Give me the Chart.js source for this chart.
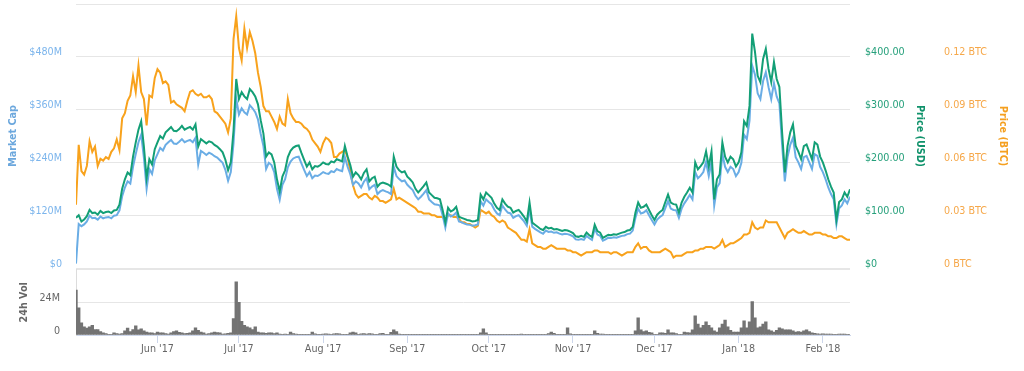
<!DOCTYPE html>
<html>
<head>
<meta charset="utf-8">
<script src="https://cdn.jsdelivr.net/npm/chart.js@4.4.1/dist/chart.umd.min.js"></script>
<style>
  html, body { margin: 0; padding: 0; background: #fff; }
  #wrap { position: relative; width: 1024px; height: 371px; overflow: hidden; }
  #mainChart { position: absolute; left: 0; top: 0; }
  #volChart { position: absolute; left: 0; top: 262px; }
</style>
</head>
<body>
<div id="wrap">
  <canvas id="mainChart" width="1024" height="272"></canvas>
  <canvas id="volChart" width="1024" height="109"></canvas>
</div>
<script>
// ── data: one value per day, day 0 = 2 May 2017, last = 11 Feb 2018 ──

// price in USD
const priceUsd = [
  95, 100, 88, 92, 98, 110, 104, 105, 101, 108,
  104, 106, 107, 104, 109, 110, 120, 150, 168, 181,
  176, 211, 238, 262, 278, 230, 170, 206, 196, 225,
  238, 250, 245, 257, 262, 267, 260, 259, 263, 269,
  262, 265, 267, 262, 272, 230, 244, 240, 236, 240,
  238, 233, 230, 225, 219, 205, 185, 200, 260, 358,
  320, 333, 325, 320, 339, 333, 325, 310, 280, 255,
  211, 219, 215, 200, 168, 145, 173, 185, 210, 222,
  228, 231, 232, 218, 205, 192, 200, 187, 193, 192,
  195, 200, 197, 196, 202, 200, 206, 204, 202, 231,
  211, 195, 173, 181, 176, 168, 180, 187, 164, 170,
  173, 154, 160, 162, 160, 158, 154, 211, 192, 185,
  181, 183, 173, 168, 162, 150, 143, 149, 155, 162,
  143, 138, 133, 132, 130, 110, 86, 114, 107, 110,
  116, 97, 95, 93, 91, 90, 88, 89, 91, 139,
  130, 143, 138, 133, 122, 114, 110, 130, 122, 116,
  114, 105, 108, 110, 104, 97, 88, 124, 86, 82,
  78, 74, 72, 78, 75, 76, 73, 74, 72, 70,
  72, 71, 69, 66, 60, 59, 61, 59, 67, 62,
  59, 82, 70, 67, 57, 60, 63, 62, 64, 63,
  65, 67, 68, 71, 72, 78, 105, 124, 114, 116,
  120, 110, 100, 91, 101, 106, 110, 125, 139, 124,
  121, 120, 105, 124, 135, 143, 152, 143, 200, 187,
  193, 200, 221, 192, 221, 130, 168, 177, 238, 211,
  200, 211, 206, 192, 200, 219, 278, 269, 307, 444,
  410, 364, 352, 396, 415, 377, 352, 390, 358, 343,
  257, 181, 231, 257, 272, 231, 220, 206, 231, 234,
  220, 206, 238, 234, 211, 200, 185, 168, 154, 143,
  91, 125, 130, 143, 135, 149
];

// market cap in $M
const marketCap = [
  10, 100, 95, 99, 106, 119, 113, 114, 110, 117,
  113, 115, 116, 113, 119, 120, 131, 163, 183, 197,
  192, 230, 259, 286, 303, 251, 180, 225, 214, 245,
  259, 273, 267, 280, 286, 291, 283, 282, 287, 293,
  286, 289, 291, 286, 296, 235, 266, 262, 257, 262,
  259, 254, 251, 245, 239, 223, 198, 218, 283, 385,
  349, 363, 354, 349, 370, 363, 354, 338, 305, 278,
  225, 239, 234, 218, 180, 155, 189, 202, 229, 242,
  249, 252, 253, 238, 223, 209, 218, 204, 210, 209,
  213, 218, 215, 214, 220, 218, 225, 222, 220, 252,
  230, 213, 189, 197, 192, 183, 196, 204, 179, 185,
  189, 168, 174, 177, 174, 172, 168, 230, 209, 202,
  197, 199, 189, 183, 177, 164, 156, 162, 169, 177,
  156, 150, 145, 144, 142, 120, 92, 124, 117, 120,
  126, 106, 104, 101, 99, 98, 96, 97, 99, 152,
  142, 156, 150, 145, 133, 124, 120, 142, 133, 126,
  124, 114, 118, 120, 113, 106, 96, 135, 94, 89,
  85, 81, 78, 85, 82, 83, 80, 81, 78, 76,
  78, 77, 75, 72, 65, 64, 66, 64, 73, 68,
  64, 89, 76, 73, 62, 65, 69, 68, 70, 69,
  71, 73, 74, 77, 78, 85, 114, 135, 124, 126,
  131, 120, 109, 99, 110, 116, 120, 136, 152, 135,
  132, 131, 114, 135, 147, 156, 166, 156, 218, 204,
  210, 218, 241, 209, 241, 142, 183, 193, 259, 230,
  218, 230, 225, 209, 218, 239, 303, 293, 335, 460,
  440, 397, 384, 425, 445, 411, 384, 420, 390, 374,
  280, 197, 252, 280, 296, 252, 240, 225, 252, 255,
  240, 225, 259, 255, 230, 218, 202, 183, 168, 156,
  99, 136, 142, 156, 147, 162
];

// price in BTC
const priceBtc = [
  0.036, 0.070, 0.055, 0.053, 0.058, 0.072, 0.066, 0.069, 0.058, 0.062,
  0.061, 0.063, 0.062, 0.066, 0.068, 0.073, 0.067, 0.085, 0.088, 0.095,
  0.098, 0.109, 0.100, 0.115, 0.100, 0.096, 0.081, 0.098, 0.097, 0.108,
  0.113, 0.111, 0.105, 0.106, 0.104, 0.094, 0.095, 0.093, 0.092, 0.091,
  0.089, 0.095, 0.100, 0.101, 0.099, 0.098, 0.099, 0.097, 0.097, 0.098,
  0.096, 0.089, 0.088, 0.086, 0.084, 0.082, 0.077, 0.085, 0.130, 0.143,
  0.125, 0.118, 0.136, 0.125, 0.134, 0.129, 0.122, 0.111, 0.103, 0.092,
  0.089, 0.089, 0.086, 0.083, 0.079, 0.086, 0.082, 0.081, 0.096, 0.088,
  0.085, 0.083, 0.083, 0.082, 0.080, 0.079, 0.077, 0.073, 0.071, 0.069,
  0.066, 0.071, 0.074, 0.073, 0.071, 0.063, 0.063, 0.065, 0.066, 0.067,
  0.063, 0.055, 0.047, 0.042, 0.040, 0.041, 0.042, 0.042, 0.040, 0.039,
  0.041, 0.040, 0.038, 0.038, 0.037, 0.038, 0.039, 0.045, 0.039, 0.040,
  0.039, 0.038, 0.037, 0.036, 0.035, 0.034, 0.032, 0.032, 0.031, 0.031,
  0.031, 0.030, 0.030, 0.029, 0.029, 0.029, 0.027, 0.030, 0.030, 0.029,
  0.029, 0.028, 0.026, 0.026, 0.025, 0.025, 0.024, 0.023, 0.024, 0.033,
  0.032, 0.031, 0.032, 0.030, 0.029, 0.027, 0.026, 0.027, 0.026, 0.023,
  0.022, 0.021, 0.020, 0.018, 0.016, 0.016, 0.015, 0.022, 0.014, 0.013,
  0.012, 0.012, 0.011, 0.011, 0.012, 0.013, 0.012, 0.011, 0.011, 0.011,
  0.011, 0.010, 0.010, 0.009, 0.009, 0.008, 0.007, 0.008, 0.009, 0.009,
  0.009, 0.010, 0.010, 0.009, 0.009, 0.009, 0.009, 0.008, 0.009, 0.009,
  0.008, 0.007, 0.008, 0.009, 0.009, 0.009, 0.012, 0.014, 0.011, 0.012,
  0.012, 0.010, 0.009, 0.009, 0.009, 0.009, 0.010, 0.011, 0.010, 0.009,
  0.006, 0.007, 0.007, 0.007, 0.008, 0.009, 0.009, 0.009, 0.010, 0.010,
  0.011, 0.011, 0.012, 0.012, 0.012, 0.011, 0.012, 0.013, 0.016, 0.012,
  0.013, 0.014, 0.014, 0.015, 0.016, 0.017, 0.019, 0.019, 0.020, 0.026,
  0.023, 0.022, 0.023, 0.023, 0.027, 0.026, 0.026, 0.026, 0.026, 0.023,
  0.020, 0.017, 0.020, 0.021, 0.022, 0.021, 0.020, 0.020, 0.021, 0.020,
  0.019, 0.019, 0.020, 0.020, 0.020, 0.019, 0.019, 0.018, 0.018, 0.017,
  0.017, 0.018, 0.018, 0.017, 0.016, 0.016
];

// 24h volume in $M
const volume = [
  33, 20, 9, 6, 5, 6, 7, 4, 4, 2.5,
  1.5, 1, 0.5, 0.4, 1.5, 1, 0.7, 1, 3, 5,
  2.5, 4, 6.7, 3.7, 4.5, 3, 2.2, 1.5, 1.5, 1,
  2.2, 1.5, 1.5, 1, 0.7, 1.5, 2.5, 3, 2, 1.5,
  1, 1.2, 1.5, 3, 5.2, 3.5, 2.2, 1.5, 0.7, 1,
  1.5, 2.2, 1.8, 1.5, 0.7, 0.8, 1.2, 1.5, 12, 39,
  24, 10, 7, 6, 5.2, 4, 6, 2.2, 1.5, 1.5,
  1.2, 1.5, 1.5, 1, 1.5, 0.7, 0.5, 0.7, 0.5, 2.2,
  1, 0.7, 0.2, 0.3, 0.2, 0.3, 0.2, 2.2, 0.8, 0.3,
  0.2, 0.7, 0.8, 0.7, 0.2, 0.8, 1, 0.8, 0.2, 0.3,
  0.4, 1.5, 2.2, 1.5, 0.3, 0.8, 1, 0.6, 1, 0.8,
  0.3, 0.3, 1, 1.2, 0.4, 0.3, 2, 3.7, 2.5, 0.6,
  0.5, 0.5, 0.5, 0.4, 0.1, 0.1, 0.1, 0.1, 0.1, 0.1,
  0.1, 0.1, 0.1, 0.1, 0.1, 0.1, 0.1, 0.1, 0.1, 0.1,
  0.1, 0.1, 0.1, 0.1, 0.1, 0.1, 0.1, 0.1, 0.2, 1.5,
  4.5, 1.5, 0.3, 0.1, 0.1, 0.1, 0.1, 0.1, 0.1, 0.1,
  0.1, 0.1, 0.1, 0.1, 0.7, 0.3, 0.1, 0.1, 0.1, 0.1,
  0.1, 0.1, 0.1, 0.1, 1, 2.2, 1.2, 0.2, 0.1, 0.1,
  0.5, 5.2, 0.8, 0.1, 0.1, 0.1, 0.1, 0.1, 0.1, 0.1,
  0.3, 3, 1.2, 0.7, 0.7, 0.5, 0.1, 0.1, 0.1, 0.1,
  0.1, 0.1, 0.1, 0.1, 0.1, 0.1, 3, 12.6, 3.7, 2.5,
  3, 2, 1.5, 0.1, 0.1, 1.5, 1.5, 1.2, 3.7, 1.5,
  1.5, 1, 0.1, 0.1, 2.2, 1.8, 1.5, 3.7, 14, 8,
  5.2, 7, 9.7, 7, 5.2, 3, 2.2, 5.2, 8, 11,
  6, 3.5, 2.2, 2.2, 2.2, 5.2, 10.4, 5.2, 9.7, 24.5,
  12.6, 5.2, 6, 8, 9.7, 3.7, 3, 2.2, 3.5, 5.2,
  4.5, 3.7, 3.7, 3.7, 3, 2.2, 2.5, 2.2, 3, 3.7,
  2.5, 1.5, 1.2, 0.8, 0.7, 0.8, 0.7, 0.7, 0.7, 0.1,
  0.1, 0.7, 0.7, 0.7, 0.3, 0.3
];

// month starts (day index) and their labels
const monthTicks = [30, 60, 91, 122, 152, 183, 213, 244, 275];
const monthLabels = ["Jun '17", "Jul '17", "Aug '17", "Sep '17", "Oct '17", "Nov '17", "Dec '17", "Jan '18", "Feb '18"];

const days = priceUsd.map((_, i) => i);
const lastDay = days.length - 1;

// ── look ──
const BLUE = '#6aade5';
const GREEN = '#139f76';
const ORANGE = '#f8a21c';
const GRID = '#e6e6e6';

Chart.defaults.font.family = 'DejaVu Sans';
Chart.defaults.font.size = 9.6;

// keep plot edges exactly where the axes are sized
function fixWidth(w) {
    return (scale) => {
        scale.width = w;
        scale.paddingTop = 0;
        scale.paddingBottom = 0;
    };
}

const boldTitle = (text, color, pad) => ({
    display: true,
    text,
    color,
    font: { weight: 'bold', size: 9.6 },
    padding: { top: pad, bottom: 0 },
});

new Chart(document.getElementById('mainChart'), {
    type: 'line',
    data: {
        labels: days,
        datasets: [
            { label: 'Price (USD)', data: priceUsd, yAxisID: 'yUsd', borderColor: GREEN, order: 1 },
            { label: 'Market Cap', data: marketCap, yAxisID: 'yCap', borderColor: BLUE, order: 2 },
            { label: 'Price (BTC)', data: priceBtc, yAxisID: 'yBtc', borderColor: ORANGE, order: 3 },
        ]
    },
    options: {
        responsive: false,
        animation: false,
        layout: { padding: { top: 4, bottom: 4, left: 0, right: 0 } },
        elements: {
            point: { radius: 0 },
            line: { borderWidth: 2, tension: 0, fill: false },
        },
        plugins: { legend: { display: false }, tooltip: { enabled: false } },
        scales: {
            x: { type: 'linear', display: false, min: 0, max: lastDay },
            yCap: {
                position: 'left',
                min: 0,
                max: 600,
                ticks: {
                    stepSize: 120,
                    color: '#7cb5ec',
                    padding: 14,
                    labelOffset: -4,
                    callback: (v) => v >= 600 ? '' : '$' + v + (v === 0 ? '' : 'M'),
                },
                grid: { color: GRID, drawTicks: false },
                border: { display: false },
                title: boldTitle('Market Cap', '#6ba7dd', 7.4),
                afterFit: fixWidth(76),
            },
            yUsd: {
                position: 'right',
                weight: 0,
                min: 0,
                max: 500,
                ticks: {
                    stepSize: 100,
                    color: '#26a07b',
                    padding: 15,
                    labelOffset: -4,
                    callback: (v) => v >= 500 ? '' : (v === 0 ? '$0' : '$' + v.toFixed(2)),
                },
                grid: { drawOnChartArea: false, drawTicks: false },
                border: { display: false },
                title: boldTitle('Price (USD)', '#10926b', 3.4),
                afterFit: fixWidth(79),
            },
            yBtc: {
                position: 'right',
                weight: 1,
                min: 0,
                max: 0.15,
                ticks: {
                    stepSize: 0.03,
                    color: '#f6a84a',
                    padding: 15,
                    labelOffset: -4,
                    callback: (v) => v >= 0.149 ? '' : (v === 0 ? '0 BTC' : v.toFixed(2) + ' BTC'),
                },
                grid: { drawOnChartArea: false, drawTicks: false },
                border: { display: false },
                title: boldTitle('Price (BTC)', '#f5a020', 15.4),
                afterFit: fixWidth(95),
            },
        }
    }
});

new Chart(document.getElementById('volChart'), {
    type: 'bar',
    data: {
        labels: days,
        datasets: [{
            label: '24h Vol',
            data: volume,
            backgroundColor: '#737373',
            borderWidth: 0,
            barPercentage: 1,
            categoryPercentage: 1,
        }]
    },
    options: {
        responsive: false,
        animation: false,
        layout: { padding: { top: 7.5, bottom: 16, left: 0, right: 174 } },
        plugins: { legend: { display: false }, tooltip: { enabled: false } },
        scales: {
            x: {
                type: 'linear',
                min: 0,
                max: lastDay,
                offset: false,
                afterBuildTicks: (scale) => {
                    scale.ticks = monthTicks.map(v => ({ value: v }));
                },
                ticks: {
                    color: '#666',
                    padding: 1,
                    maxRotation: 0,
                    autoSkip: false,
                    callback: (v) => monthLabels[monthTicks.indexOf(v)],
                },
                grid: { offset: false, drawOnChartArea: false, drawTicks: true, tickLength: 8, color: '#ccd6eb' },
                border: { display: true, color: '#ccd6eb' },
                afterFit: (scale) => {
                    scale.height = 20;
                    scale.paddingLeft = 0;
                    scale.paddingRight = 0;
                },
            },
            y: {
                position: 'left',
                min: 0,
                max: 48,
                ticks: {
                    stepSize: 24,
                    color: '#666',
                    padding: 16,
                    labelOffset: -4,
                    callback: (v) => v >= 48 ? '' : (v === 0 ? '0' : v + 'M'),
                },
                grid: { color: GRID, drawTicks: false },
                border: { display: true, color: '#dcdcdc' },
                title: boldTitle('24h Vol', '#666', 18.4),
                afterFit: fixWidth(76),
            },
        }
    }
});
</script>
</body>
</html>
